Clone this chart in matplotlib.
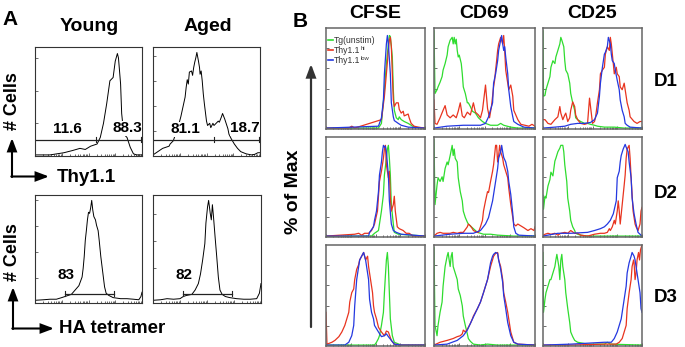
import matplotlib
matplotlib.use("Agg")
import matplotlib.pyplot as plt
from matplotlib.patches import FancyArrowPatch
import numpy as np

plt.rcParams['font.family'] = ['Liberation Sans', 'DejaVu Sans']

W, H = 685, 347

# ---------------- panel A (x: channel %, y: % of frame) ----------------
young_thy_x = [0, 0.5, 14, 27, 35, 42, 47, 52, 58, 61, 64, 67, 70, 73, 75, 77, 78, 80, 81, 83, 86, 89, 92, 95, 100]
young_thy_y = [25, 1, 1, 3, 5, 7, 6, 9, 11, 17, 30, 48, 69, 72, 87, 94, 90, 66, 39, 20, 17, 8, 2, 1, 1]
aged_thy_x = [0, 3, 6, 9, 12, 15, 16, 19, 20, 23, 26, 28, 30, 31, 32, 33, 34, 36, 37, 38,
              39, 40, 41, 42.5, 43.5, 44, 45, 46, 47, 48, 50, 51, 53, 54, 56, 57, 59, 61, 62, 64,
              65, 67, 68, 70, 71, 73, 76, 79, 82, 87, 92, 95, 98, 100]
aged_thy_y = [1, 3, 5, 7, 8, 9, 11, 14, 17, 25, 36, 45, 54, 63, 70, 66, 77, 78, 74, 81,
              86, 90, 95, 87, 81, 75, 78, 69, 57, 48, 32, 28, 30, 26, 30, 28, 30, 32, 31, 36,
              39, 34, 31, 25, 20, 16, 11, 7, 4, 2, 1, 1.5, 3, 3]
young_ha_x = [0, 8, 14, 20, 25, 28, 31, 34, 37.5, 41, 44, 45, 46, 47, 48, 49, 50, 51, 52, 53,
              54, 55, 56.5, 57.5, 59, 60, 61.5, 63.5, 65, 66.5, 69, 73, 80, 86, 92, 97, 99, 100]
young_ha_y = [2.5, 3, 3.5, 3.5, 5, 6, 7, 8, 12, 16, 24, 32, 43, 58, 67, 77, 84, 83, 88, 95,
              86, 80, 77, 72, 67, 58, 43, 27, 15, 9, 7, 5, 4, 4, 3.5, 3, 6, 10]
aged_ha_x = [0, 7, 13, 19, 25, 28, 31, 36, 39, 42, 44, 46, 48, 49, 50.5, 51.5, 53, 54, 55, 56,
             57.5, 59, 60.5, 62, 64, 67, 71, 77.5, 84, 90, 96, 98.5, 100]
aged_ha_y = [2.5, 3, 4, 3.5, 4, 6, 7, 8, 12, 18, 27, 40, 55, 74, 89, 95, 83, 77, 91, 80,
             61, 43, 24, 12, 8, 6, 5, 4, 3.5, 3.5, 4, 9, 18]

thy_gate_split = 57
thy_labels = [("11.6", "88.3"), ("81.1", "18.7")]
ha_gates = [(28, 74), (28, 73.5)]
ha_labels = ["83", "82"]

# ---------------- panel B (x: channel %, y: % of Max) ----------------
cfse_d1_green_x = [0, 53, 56, 59, 61, 63, 64, 65, 67, 68, 69, 71, 73, 74, 76, 79, 83, 86, 89, 100]
cfse_d1_green_y = [1, 1, 6, 42, 70, 91, 100, 99, 77, 42, 20, 12, 10, 13, 10, 8, 6, 4, 2, 1]
cfse_d1_red_x = [0, 23, 26, 29, 56, 59, 61, 63, 64, 65, 66, 67, 68, 69, 71, 73, 74, 76, 78, 79, 81, 83, 84, 86, 89, 93, 100]
cfse_d1_red_y = [1, 1, 3, 1, 10, 35, 59, 84, 95, 98, 88, 59, 31, 24, 28, 28, 21, 17, 19, 14, 15, 16, 12, 6, 3, 2, 1]
cfse_d1_blue_x = [0, 53, 56, 58, 59, 61, 62, 63, 65, 66, 68, 69, 73, 76, 83, 100]
cfse_d1_blue_y = [1, 3, 12, 31, 59, 91, 100, 91, 59, 28, 13, 9, 6, 4, 2, 1]

cfse_d2_green_x = [0, 46, 49, 53, 54, 56, 58, 59, 61, 62, 63, 64, 65, 66, 68, 69, 73, 100]
cfse_d2_green_y = [1, 1, 4, 7, 14, 28, 46, 67, 85, 95, 99, 85, 67, 35, 14, 5, 3, 1]
cfse_d2_red_x = [0, 29, 33, 36, 39, 43, 46, 49, 52, 54, 56, 58, 59, 60, 61, 63, 64, 65, 66, 68, 69, 70, 72, 74, 78, 81, 84, 88, 100]
cfse_d2_red_y = [1, 3, 4, 2, 4, 4, 7, 14, 28, 60, 71, 85, 95, 99, 78, 64, 71, 42, 28, 35, 44, 28, 11, 9, 7, 4, 4, 1, 1]
cfse_d2_blue_x = [0, 43, 44, 48, 49, 51, 53, 54, 56, 57, 58, 59, 60, 61, 63, 64, 66, 68, 71, 76, 100]
cfse_d2_blue_y = [1, 1, 5, 11, 18, 28, 49, 67, 81, 92, 99, 97, 98, 92, 67, 39, 14, 7, 5, 3, 1]

cfse_d3_green_x = [0, 49, 51, 53, 54, 56, 58, 59, 60, 61, 62, 63, 64, 65, 67, 69, 76, 100]
cfse_d3_green_y = [1, 1, 4, 8, 11, 22, 36, 57, 75, 92, 100, 85, 57, 29, 11, 4, 1, 1]
cfse_d3_red_x = [0, 1, 6, 9, 13, 16, 19, 21, 23, 24, 26, 28, 29, 31, 33, 34, 36, 38, 39, 40,
                 42, 43, 45, 47, 48, 49, 51, 53, 56, 59, 61, 63, 66, 69, 76, 100]
cfse_d3_red_y = [36, 2, 4, 6, 10, 15, 22, 29, 36, 47, 57, 61, 71, 82, 87, 92, 96, 100, 96, 92,
                 96, 85, 71, 57, 43, 36, 29, 20, 15, 11, 16, 15, 6, 2, 1, 1]
cfse_d3_blue_x = [0, 19, 23, 26, 28, 29, 31, 33, 34, 36, 38, 39, 40, 41, 43, 44, 46, 48, 49, 53,
                  56, 59, 61, 63, 66, 69, 76, 100]
cfse_d3_blue_y = [1, 1, 4, 11, 22, 43, 71, 85, 92, 96, 100, 96, 92, 85, 71, 50, 36, 29, 22, 15,
                  10, 11, 13, 10, 6, 2, 1, 1]

cd69_d1_green_x = [0, 1, 3, 4, 6, 8, 9, 11, 13, 14, 16, 18, 19, 20, 21, 22, 23, 24, 25, 27,
                   28, 29, 31, 33, 34, 36, 38, 41, 44, 48, 51, 56, 63, 66, 69, 76, 83, 100]
cd69_d1_green_y = [105, 38, 42, 45, 50, 56, 63, 70, 79, 88, 95, 98, 91, 98, 91, 96, 84, 77, 79, 70,
                   59, 45, 38, 28, 28, 24, 19, 17, 12, 8, 6, 4, 4, 6, 4, 2, 1, 1]
cd69_d1_red_x = [0, 1, 3, 6, 9, 11, 13, 16, 19, 22, 24, 26, 28, 30, 33, 36, 39, 41, 44, 46,
                 48, 50, 51, 53, 55, 57, 59, 60, 61, 62, 63, 64, 66, 68, 69, 70, 71, 73, 74, 76,
                 78, 79, 81, 83, 86, 90, 94, 97, 100]
cd69_d1_red_y = [31, 6, 5, 12, 20, 25, 15, 12, 15, 12, 19, 28, 14, 12, 18, 15, 28, 18, 15, 12,
                 20, 38, 47, 22, 12, 25, 45, 52, 63, 73, 84, 91, 98, 91, 100, 84, 63, 49, 42, 47,
                 35, 20, 15, 10, 5, 4, 3, 5, 3]
cd69_d1_blue_x = [0, 13, 29, 46, 51, 54, 58, 59, 61, 63, 64, 66, 67, 68, 69, 70, 71, 73, 74, 76, 78, 79, 83, 89, 100]
cd69_d1_blue_y = [1, 3, 4, 4, 6, 13, 28, 49, 59, 73, 84, 95, 100, 91, 84, 88, 77, 59, 42, 24, 13, 8, 5, 2, 1]

cd69_d2_green_x = [0, 1, 3, 4, 6, 8, 9, 11, 13, 14, 16, 18, 19, 20, 21, 23, 24, 26, 28, 29,
                   31, 33, 34, 36, 39, 43, 46, 49, 56, 63, 79, 100]
cd69_d2_green_y = [105, 35, 56, 64, 60, 65, 60, 74, 81, 78, 88, 99, 88, 95, 85, 81, 64, 49, 39, 28,
                   21, 16, 14, 12, 9, 5, 4, 3, 3, 2, 1, 1]
cd69_d2_red_x = [0, 3, 6, 9, 13, 16, 19, 23, 26, 29, 33, 34, 36, 38, 39, 43, 44, 46, 48, 49,
                 51, 53, 54, 56, 58, 59, 61, 62, 63, 64, 65, 66, 68, 69, 71, 73, 74, 76, 78, 79,
                 81, 83, 86, 89, 93, 96, 99, 100]
cd69_d2_red_y = [1, 4, 5, 4, 4, 4, 5, 4, 5, 5, 11, 14, 12, 9, 7, 5, 5, 11, 18, 28,
                 39, 49, 48, 60, 71, 78, 99, 99, 81, 88, 99, 92, 85, 78, 71, 64, 53, 35, 21, 14,
                 12, 14, 12, 10, 7, 9, 7, 11]
cd69_d2_blue_x = [0, 16, 29, 39, 46, 51, 54, 58, 61, 63, 64, 66, 67, 68, 69, 71, 73, 74, 76, 78, 79, 81, 84, 100]
cd69_d2_blue_y = [1, 3, 4, 4, 7, 14, 21, 39, 60, 74, 85, 92, 99, 92, 86, 81, 71, 60, 46, 25, 11, 4, 2, 1]

cd69_d3_green_x = [0, 1, 3, 4, 6, 8, 9, 11, 13, 14, 15, 16, 17, 18, 19, 21, 23, 24, 26, 28,
                   29, 31, 33, 34, 36, 39, 46, 53, 63, 100]
cd69_d3_green_y = [105, 22, 11, 22, 36, 47, 64, 85, 96, 100, 92, 85, 96, 100, 85, 78, 71, 61, 54, 43,
                   32, 22, 13, 8, 5, 2, 1, 2, 1, 1]
cd69_d3_red_x = [0, 6, 13, 19, 23, 26, 28, 29, 31, 33, 34, 36, 38, 39, 43, 46, 49, 53, 56, 59,
                 61, 63, 64, 66, 68, 69, 71, 73, 76, 79, 83, 100]
cd69_d3_red_y = [1, 4, 6, 8, 10, 11, 13, 17, 15, 18, 20, 24, 29, 32, 40, 47, 57, 71, 85, 96,
                 99, 100, 92, 85, 71, 57, 47, 36, 15, 4, 2, 1]
cd69_d3_blue_x = [0, 13, 23, 29, 33, 36, 39, 43, 46, 49, 53, 56, 58, 59, 61, 63, 64, 66, 68, 69,
                  71, 73, 76, 79, 83, 100]
cd69_d3_blue_y = [1, 2, 6, 11, 17, 24, 31, 40, 47, 57, 71, 89, 96, 98, 100, 99, 92, 82, 68, 54,
                  40, 25, 11, 4, 2, 1]

cd25_d1_green_x = [0, 0.5, 2, 3, 5, 7, 8, 10, 12, 13, 15, 17, 18, 19, 21, 22, 23, 25, 27, 28,
                   30, 32, 33, 35, 38, 42, 45, 48, 52, 55, 62, 72, 82, 100]
cd25_d1_green_y = [105, 35, 36, 42, 49, 56, 66, 73, 70, 77, 84, 91, 98, 95, 88, 73, 63, 59, 49, 38,
                   28, 20, 12, 10, 8, 6, 6, 5, 4, 3, 2, 2, 1, 1]
cd25_d1_red_x = [0, 2, 5, 8, 12, 15, 17, 18, 20, 22, 23, 25, 27, 28, 30, 32, 33, 35, 38, 42,
                 45, 47, 48, 50, 52, 53, 55, 57, 58, 60, 62, 63, 65, 67, 68, 69, 71, 72, 74, 75,
                 77, 78, 80, 82, 83, 85, 87, 88, 92, 95, 98, 100]
cd25_d1_red_y = [10, 10, 6, 5, 10, 13, 24, 17, 10, 15, 17, 8, 12, 20, 29, 24, 15, 10, 6, 5,
                 6, 33, 24, 6, 8, 12, 28, 42, 59, 63, 66, 80, 88, 84, 98, 91, 70, 59, 66, 59,
                 56, 45, 42, 49, 42, 28, 20, 13, 8, 6, 8, 8]
cd25_d1_blue_x = [0, 12, 22, 28, 35, 42, 48, 52, 55, 57, 58, 60, 62, 63, 65, 66, 68, 69, 70, 72,
                  73, 75, 77, 78, 80, 82, 83, 85, 88, 100]
cd25_d1_blue_y = [1, 2, 3, 5, 6, 6, 7, 10, 17, 35, 49, 66, 80, 82, 88, 98, 91, 80, 73, 70,
                  63, 52, 42, 31, 20, 13, 6, 4, 2, 1]

cd25_d2_green_x = [0, 0.5, 2, 3, 5, 7, 8, 10, 12, 13, 15, 17, 18, 20, 21, 22, 24, 25, 27, 28,
                   30, 32, 33, 35, 38, 45, 100]
cd25_d2_green_y = [45, 30, 44, 42, 55, 62, 70, 66, 82, 85, 92, 96, 99, 99, 92, 78, 60, 42, 28, 18,
                   11, 7, 4, 3, 2, 1, 1]
cd25_d2_red_x = [0, 2, 5, 8, 12, 15, 18, 22, 25, 28, 32, 35, 38, 45, 52, 58, 62, 65, 67, 68,
                 70, 72, 73, 75, 76, 77, 78, 80, 82, 83, 84, 85, 87, 88, 89, 90, 91, 93, 94, 96,
                 98, 99, 100]
cd25_d2_red_y = [1, 3, 4, 3, 4, 2, 4, 5, 4, 7, 4, 4, 2, 1, 3, 4, 4, 5, 9, 7,
                 11, 18, 14, 28, 39, 28, 14, 35, 56, 67, 85, 95, 99, 85, 64, 46, 28, 14, 11, 7,
                 14, 28, 32]
cd25_d2_blue_x = [0, 15, 28, 45, 52, 58, 62, 65, 68, 71, 74, 75, 77, 78, 79, 81, 83, 84, 86, 87,
                  89, 90, 92, 94, 96, 99, 100]
cd25_d2_blue_y = [1, 4, 4, 5, 7, 9, 11, 14, 18, 25, 39, 64, 71, 81, 88, 95, 100, 97, 92, 81,
                  64, 42, 25, 14, 5, 2, 1]

cd25_d3_green_x = [0, 0.5, 2, 3, 5, 7, 8, 10, 12, 13, 14, 16, 17, 18, 19, 20, 22, 23, 25, 27,
                   28, 30, 32, 35, 45, 62, 65, 68, 100]
cd25_d3_green_y = [100, 36, 50, 57, 64, 71, 71, 78, 85, 92, 98, 85, 71, 92, 98, 85, 71, 57, 40, 25,
                   15, 10, 6, 4, 2, 2, 4, 2, 1]
cd25_d3_red_x = [0, 28, 62, 74, 77, 80, 84, 85, 87, 89, 90, 91.5, 92, 93, 94, 95, 96.5, 97.5, 98.5, 100]
cd25_d3_red_y = [1, 1, 2, 2, 4, 8, 22, 40, 57, 71, 85, 92, 89, 71, 78, 92, 100, 92, 103, 108]
cd25_d3_blue_x = [0, 28, 62, 69, 72, 75, 79, 82, 84, 85, 87, 89, 90, 92, 93, 94, 96, 98, 99, 100]
cd25_d3_blue_y = [1, 2, 4, 4, 8, 15, 29, 50, 64, 78, 89, 96, 100, 96, 92, 85, 71, 57, 40, 36]

col_titles = ["CFSE", "CD69", "CD25"]
row_titles = ["D1", "D2", "D3"]
legend_labels = ["Tg(unstim)", "Thy1.1", "Thy1.1"]
legend_sups = ["", "hi", "low"]

GREEN, RED, BLUE = "#2fdc2f", "#e8341f", "#2438e0"

fig = plt.figure(figsize=(W / 100, H / 100), dpi=100)


def px_axes(x0, y0, x1, y1):
    return fig.add_axes([x0 / W, 1 - y1 / H, (x1 - x0) / W, (y1 - y0) / H])


def log_ticks(ax, yt, ymax):
    ax.set_xlim(0, 100)
    ax.set_ylim(0, ymax)
    majors = [0, 25, 50, 75, 100]
    minors = [25 * (d + np.log10(k)) for d in range(4) for k in range(2, 10)]
    ax.set_xticks(majors)
    ax.set_xticks(minors, minor=True)
    ax.set_yticks(yt)
    ax.tick_params(which='both', direction='in', labelleft=False, labelbottom=False,
                   color='#555555', width=0.6)
    ax.tick_params(which='major', length=2.5)
    ax.tick_params(which='minor', length=1.5)


# ---- panel A axes ----
a_boxes = [(35, 47, 142, 156), (153, 47, 260, 156), (35, 195, 142, 303), (153, 195, 261, 303)]
a_curves = [(young_thy_x, young_thy_y), (aged_thy_x, aged_thy_y),
            (young_ha_x, young_ha_y), (aged_ha_x, aged_ha_y)]
a_yticks = [[30, 60, 90], [23, 46, 69, 92], [23, 47, 71, 95], [32, 57, 82]]

for i, (box, (cx, cy)) in enumerate(zip(a_boxes, a_curves)):
    ax = px_axes(*box)
    log_ticks(ax, a_yticks[i], 100)
    for s in ax.spines.values():
        s.set_color('#333333')
        s.set_linewidth(0.8)
    ax.plot(cx, cy, color='black', lw=0.7)
    lab_kw = dict(ha='center', va='center', fontsize=11, fontweight='bold',
                  bbox=dict(fc='white', ec='none', pad=0.3))
    if i < 2:
        gy = 14.9
        ax.plot([0, 99], [gy, gy], color='#222222', lw=0.9)
        for gx in (thy_gate_split, 99):
            ax.plot([gx, gx], [gy - 2.5, gy + 2.5], color='#222222', lw=0.8)
        left_lab, right_lab = thy_labels[i]
        ax.text(30, 24.5, left_lab, **lab_kw)
        ax.text(86, 25.5, right_lab, **lab_kw)
    else:
        gy = 8.7
        g0, g1 = ha_gates[i - 2]
        ax.plot([g0, g1], [gy, gy], color='#222222', lw=0.9)
        for gx in (g0, g1):
            ax.plot([gx, gx], [gy - 2.5, gy + 2.5], color='#222222', lw=0.8)
        ax.text(29, 25.5, ha_labels[i - 2], **lab_kw)

# ---- panel B axes ----
b_cols = [(326, 425), (434, 535), (543, 642)]
b_rows = [(28, 129), (137, 237), (245, 346)]
b_data = {
    (0, 0): [(cfse_d1_green_x, cfse_d1_green_y), (cfse_d1_red_x, cfse_d1_red_y), (cfse_d1_blue_x, cfse_d1_blue_y)],
    (1, 0): [(cfse_d2_green_x, cfse_d2_green_y), (cfse_d2_red_x, cfse_d2_red_y), (cfse_d2_blue_x, cfse_d2_blue_y)],
    (2, 0): [(cfse_d3_green_x, cfse_d3_green_y), (cfse_d3_red_x, cfse_d3_red_y), (cfse_d3_blue_x, cfse_d3_blue_y)],
    (0, 1): [(cd69_d1_green_x, cd69_d1_green_y), (cd69_d1_red_x, cd69_d1_red_y), (cd69_d1_blue_x, cd69_d1_blue_y)],
    (1, 1): [(cd69_d2_green_x, cd69_d2_green_y), (cd69_d2_red_x, cd69_d2_red_y), (cd69_d2_blue_x, cd69_d2_blue_y)],
    (2, 1): [(cd69_d3_green_x, cd69_d3_green_y), (cd69_d3_red_x, cd69_d3_red_y), (cd69_d3_blue_x, cd69_d3_blue_y)],
    (0, 2): [(cd25_d1_green_x, cd25_d1_green_y), (cd25_d1_red_x, cd25_d1_red_y), (cd25_d1_blue_x, cd25_d1_blue_y)],
    (1, 2): [(cd25_d2_green_x, cd25_d2_green_y), (cd25_d2_red_x, cd25_d2_red_y), (cd25_d2_blue_x, cd25_d2_blue_y)],
    (2, 2): [(cd25_d3_green_x, cd25_d3_green_y), (cd25_d3_red_x, cd25_d3_red_y), (cd25_d3_blue_x, cd25_d3_blue_y)],
}
b_yticks = [108 * k / 5 for k in range(1, 5)]

for r, (y0, y1) in enumerate(b_rows):
    for c, (x0, x1) in enumerate(b_cols):
        ax = px_axes(x0, y0, x1, y1)
        log_ticks(ax, b_yticks, 108)
        for s in ax.spines.values():
            s.set_color('#666666')
            s.set_linewidth(1.1)
        for (cx, cy), col in zip(b_data[(r, c)], (GREEN, RED, BLUE)):
            ax.plot(cx, cy, color=col, lw=0.9, clip_on=True)

# ---- overlay: labels, arrows, legend ----
ov = fig.add_axes([0, 0, 1, 1], zorder=10)
ov.set_xlim(0, W)
ov.set_ylim(H, 0)
ov.axis('off')
ov.patch.set_alpha(0)

bold = dict(fontweight='bold', color='black')
ov.text(10, 25, "A", ha='center', va='baseline', fontsize=15, **bold)
ov.text(89, 31, "Young", ha='center', va='baseline', fontsize=14, **bold)
ov.text(208, 31, "Aged", ha='center', va='baseline', fontsize=14, **bold)
ov.text(300.5, 27, "B", ha='center', va='baseline', fontsize=15, **bold)
for (x0, x1), t in zip(b_cols, col_titles):
    ov.text((x0 + x1) / 2, 17.5, t, ha='center', va='baseline', fontsize=14, **bold)
for (y0, y1), t, yc in zip(b_rows, row_titles, [81, 193, 297]):
    ov.text(666, yc, t, ha='center', va='center', fontsize=13.5, **bold)

ov.text(12.5, 101, "# Cells", ha='center', va='center', rotation=90, fontsize=13, **bold)
ov.text(12.5, 252, "# Cells", ha='center', va='center', rotation=90, fontsize=13, **bold)
ov.text(57, 182, "Thy1.1", ha='left', va='baseline', fontsize=13.5, **bold)
ov.text(59, 333, "HA tetramer", ha='left', va='baseline', fontsize=13.5, **bold)
ov.text(293.5, 192, "% of Max", ha='center', va='center', rotation=90, fontsize=14, **bold)


def arrow(p0, p1, color='black', lw=1.5):
    ov.add_patch(FancyArrowPatch(p0, p1, arrowstyle='-|>,head_length=0.75,head_width=0.28',
                                 mutation_scale=10, color=color, lw=lw,
                                 shrinkA=0, shrinkB=0, joinstyle='miter'))


arrow((12, 177), (12, 138))
arrow((11.3, 176.5), (49, 176.5))
arrow((13, 329), (13, 287))
arrow((12.3, 328.5), (54, 328.5))
arrow((311, 327), (311, 64), color='#333333', lw=1.6)

# legend: coloured dash, grey text, small raised suffix after the text
for lab, sup, col, yb in zip(legend_labels, legend_sups, (GREEN, RED, BLUE), [43, 53, 63]):
    ov.plot([328, 333], [yb - 2.7, yb - 2.7], color=col, lw=1.2)
    ov.text(333.5, yb, lab, ha='left', va='baseline', fontsize=6.2, color='#333333')
    if sup:
        ov.text(361, yb - 3.5, sup, ha='left', va='baseline', fontsize=4.2, color='#333333')

fig.savefig("out.png", dpi=100)
